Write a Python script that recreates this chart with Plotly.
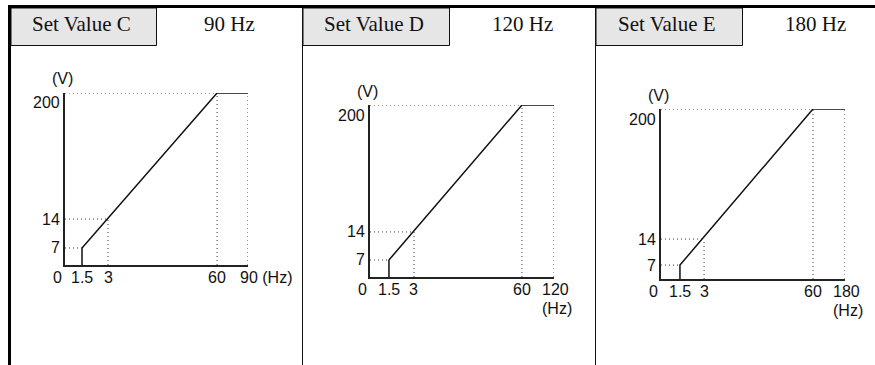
import numpy as np
import plotly.graph_objects as go

# ---------------- data ----------------
set_values = ["Set Value C", "Set Value D", "Set Value E"]
max_freq_hz = [90, 120, 180]
max_freq_labels = ["90 Hz", "120 Hz", "180 Hz"]
freq_ticks_hz = [0, 1.5, 3, 60]          # + max frequency of each panel
volt_ticks_v = [0, 7, 14, 200]
curve_v = [0, 7, 200, 200]               # V/f pattern voltages
curve_hz_base = [1.5, 1.5, 60]           # + max frequency

# ---------------- schematic scales (layout) ----------------
W, H = 875, 365
hz_frac = [[0, 0.093, 0.235, 0.831, 1.0],
           [0, 0.103, 0.239, 0.826, 1.0],
           [0, 0.103, 0.234, 0.826, 1.0]]
v_frac = [[0, 0.099, 0.267, 1.0],
          [0, 0.099, 0.262, 1.0],
          [0, 0.082, 0.235, 1.0]]
# plot boxes in pixels: x0, x1, ytop(200V), ybottom(0V)
boxes = [(65, 248, 93, 265), (370, 554, 105, 277), (661, 845, 109, 279)]


def px(x):
    return x / W


def py(y):
    return 1 - y / H


fig = go.Figure()
layout_axes = {}
annotations = []
shapes = []

TICK_FONT = dict(family="Liberation Sans, Arial, sans-serif", size=16, color="#111")
HEAD_FONT = dict(family="Liberation Serif, Times New Roman, serif", size=21, color="#111")
DOT = dict(color="#3a3a3a", width=1, dash="1px,3px")

for i in range(3):
    fmax = max_freq_hz[i]
    hz_t = freq_ticks_hz + [fmax]
    sx = lambda v, i=i, hz_t=hz_t: float(np.interp(v, hz_t, hz_frac[i]))
    sy = lambda v, i=i: float(np.interp(v, volt_ticks_v, v_frac[i]))
    xa = "x" if i == 0 else f"x{i+1}"
    ya = "y" if i == 0 else f"y{i+1}"
    x0, x1, yt, yb = boxes[i]
    layout_axes["xaxis" if i == 0 else f"xaxis{i+1}"] = dict(
        domain=[px(x0), px(x1)], range=[0, 1], anchor=ya,
        showgrid=False, zeroline=False, showticklabels=False, ticks="",
        showline=True, linecolor="#222", linewidth=1.6, fixedrange=True)
    layout_axes["yaxis" if i == 0 else f"yaxis{i+1}"] = dict(
        domain=[py(yb), py(yt)], range=[0, 1], anchor=xa,
        showgrid=False, zeroline=False, showticklabels=False, ticks="",
        showline=True, linecolor="#222", linewidth=1.6, fixedrange=True)

    def dotted(hzs, vs):
        fig.add_trace(go.Scatter(x=[sx(h) for h in hzs], y=[sy(v) for v in vs],
                                 mode="lines", line=DOT, xaxis=xa, yaxis=ya,
                                 cliponaxis=False, hoverinfo="skip", showlegend=False))

    # reference (dotted) lines
    dotted([0, 60], [200, 200])
    dotted([60, 60], [0, 200])
    dotted([fmax, fmax], [0, 200])
    dotted([0, 3], [14, 14])
    dotted([3, 3], [0, 14])
    dotted([0, 1.5], [7, 7])

    # V/f curve
    chz = curve_hz_base + [fmax]
    fig.add_trace(go.Scatter(x=[sx(h) for h in chz], y=[sy(v) for v in curve_v],
                             mode="lines", line=dict(color="#111", width=1.5),
                             xaxis=xa, yaxis=ya, cliponaxis=False,
                             hoverinfo="skip", showlegend=False))

    base = dict(xref=xa, yref=ya, showarrow=False, font=TICK_FONT,
                xanchor="center", yanchor="middle")
    # tick labels
    annotations.append(dict(base, x=0, y=0, text="0", xshift=-8, yshift=-12))
    for h in [1.5, 3, 60]:
        annotations.append(dict(base, x=sx(h), y=0, text=f"{h:g}", yshift=-12))
    if i == 0:
        annotations.append(dict(base, x=sx(fmax), y=0, text=f"{fmax} (Hz)",
                                xanchor="left", xshift=-10, yshift=-12))
    else:
        annotations.append(dict(base, x=sx(fmax), y=0, text=f"{fmax}",
                                xshift=1, yshift=-12))
        annotations.append(dict(base, x=sx(fmax), y=0, text="(Hz)",
                                xshift=3, yshift=-31))
    for v in [7, 14, 200]:
        annotations.append(dict(base, x=0, y=sy(v), text=f"{v}", xanchor="right",
                                xshift=-3, yshift=(-10 if v == 200 else 0)))
    annotations.append(dict(base, x=0, y=1, text="(V)", xshift=-3, yshift=14))

# ---------------- table frame ----------------
cells = [(11, 156.5), (303, 449.5), (596, 742.5)]
value_cx = [229, 522, 815]
for i, (c0, c1) in enumerate(cells):
    shapes.append(dict(type="rect", xref="paper", yref="paper",
                       x0=px(c0), x1=px(c1), y0=py(45.5), y1=py(8),
                       fillcolor="#e6e6e6", line=dict(color="#111", width=1)))
    annotations.append(dict(x=px((c0 + c1) / 2 - 2), y=py(24), xref="paper", yref="paper",
                            xanchor="center", yanchor="middle",
                            text=set_values[i], showarrow=False, font=HEAD_FONT))
    annotations.append(dict(x=px(value_cx[i]), y=py(24), xref="paper", yref="paper",
                            xanchor="center", yanchor="middle",
                            text=max_freq_labels[i], showarrow=False, font=HEAD_FONT))

for xv in [302.5, 595.5]:
    shapes.append(dict(type="line", xref="paper", yref="paper", x0=px(xv), x1=px(xv),
                       y0=py(8), y1=py(366), line=dict(color="#111", width=1)))
shapes.append(dict(type="line", xref="paper", yref="paper", x0=px(8), x1=px(876),
                   y0=py(6.5), y1=py(6.5), line=dict(color="#000", width=3)))
shapes.append(dict(type="line", xref="paper", yref="paper", x0=px(9.5), x1=px(9.5),
                   y0=py(5), y1=py(366), line=dict(color="#000", width=3)))

fig.update_layout(width=W, height=H, margin=dict(l=0, r=0, t=0, b=0),
                  paper_bgcolor="white", plot_bgcolor="rgba(0,0,0,0)",
                  showlegend=False, annotations=annotations, shapes=shapes,
                  **layout_axes)

fig.write_html("out.html", config={"displayModeBar": False},
               post_script="document.body.style.margin='0';document.body.style.overflow='hidden';")
